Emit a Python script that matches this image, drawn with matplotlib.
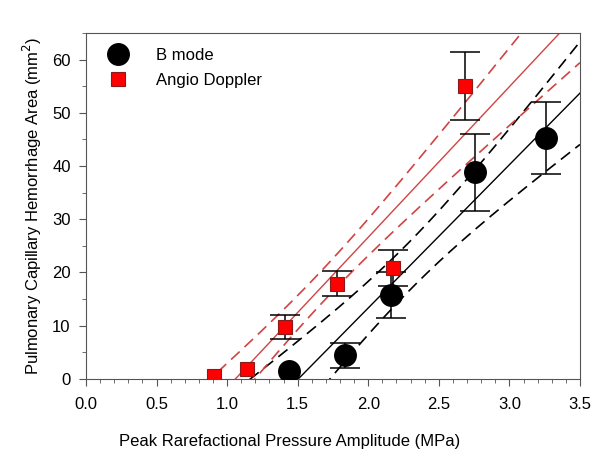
import numpy as np
import matplotlib.pyplot as plt
from matplotlib.ticker import MultipleLocator

plt.rcParams["font.family"] = ["Liberation Sans", "DejaVu Sans"]

# Values (nan = no visible error bar)
bmode_x = [1.44, 1.836, 2.162, 2.757, 3.258]
bmode_y = [1.5, 4.4, 15.8, 38.8, 45.2]
bmode_err = [np.nan, 2.3, 4.3, 7.2, 6.8]

angio_x = [0.907, 1.139, 1.408, 1.78, 2.178, 2.686]
angio_y = [0.5, 1.8, 9.75, 17.9, 20.9, 55.0]
angio_err = [np.nan, np.nan, 2.2, 2.3, 3.4, 6.4]

# width multiplier of the dashed bands around each fit
bmode_band_k = 2.2
angio_band_k = 1.0


def fit_with_band(x, y, k, xs):
    x = np.asarray(x)
    y = np.asarray(y)
    slope, icpt = np.polyfit(x, y, 1)
    resid = y - (slope * x + icpt)
    s = np.sqrt(np.sum(resid**2) / (len(x) - 2))
    sxx = np.sum((x - x.mean()) ** 2)
    half = k * s * np.sqrt(1 / len(x) + (xs - x.mean()) ** 2 / sxx)
    fit = slope * xs + icpt
    return fit, fit - half, fit + half


fig = plt.figure(figsize=(6.01, 4.57), dpi=100)
ax = fig.add_axes([0.143, 0.171, 0.822, 0.757])

xs = np.linspace(0, 3.5, 400)
red_line = "#d04444"

for x, y, k, col in [
    (bmode_x, bmode_y, bmode_band_k, "black"),
    (angio_x, angio_y, angio_band_k, red_line),
]:
    fit, lo, hi = fit_with_band(x, y, k, xs)
    ax.plot(xs, fit, color=col, lw=1.0, zorder=2)
    ax.plot(xs, lo, color=col, lw=1.2, ls=(0, (7, 4)), zorder=2)
    ax.plot(xs, hi, color=col, lw=1.2, ls=(0, (7, 4)), zorder=2)


def draw_err(x, y, err):
    keep = ~np.isnan(err)
    ax.errorbar(np.asarray(x)[keep], np.asarray(y)[keep],
                yerr=np.asarray(err)[keep], fmt="none", ecolor="black",
                elinewidth=1.1, capsize=10.5, capthick=1.1, zorder=3)


draw_err(bmode_x, bmode_y, bmode_err)
draw_err(angio_x, angio_y, angio_err)

ax.plot(bmode_x, bmode_y, "o", color="black", ms=15.5, ls="none",
        label="B mode", zorder=4)
ax.plot(angio_x, angio_y, "s", mfc="#ff0000", mec="#8b1a1a", mew=0.8,
        ms=10.5, ls="none", label="Angio Doppler", zorder=4)

ax.set_xlim(0, 3.5)
ax.set_ylim(0, 65)
ax.xaxis.set_major_locator(MultipleLocator(0.5))
ax.xaxis.set_minor_locator(MultipleLocator(0.1))
ax.yaxis.set_major_locator(MultipleLocator(10))
ax.yaxis.set_minor_locator(MultipleLocator(5))
ax.set_xticklabels([f"{v:.1f}" for v in ax.get_xticks()])
ax.tick_params(which="both", direction="out", top=False, right=False,
               labelsize=12, color="#555555")
ax.tick_params(which="major", length=5)
ax.tick_params(axis="x", pad=8)
ax.tick_params(axis="y", pad=6)
ax.tick_params(which="minor", length=3)
for sp in ax.spines.values():
    sp.set_color("#555555")

ax.set_xlabel("Peak Rarefactional Pressure Amplitude (MPa)", fontsize=12)
ax.xaxis.set_label_coords(0.413, -0.16)
ax.set_ylabel("Pulmonary Capillary Hemorrhage Area (mm$^2$)", fontsize=12,
              labelpad=6)

ax.legend(loc="upper left", frameon=False, fontsize=12, handletextpad=1.3,
          borderaxespad=0.5, labelspacing=0.6, numpoints=1)

fig.savefig("out.png", dpi=100)
